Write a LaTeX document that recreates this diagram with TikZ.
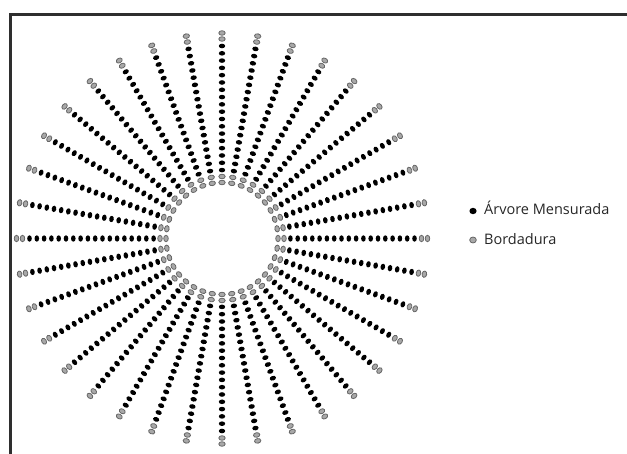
\documentclass[tikz,border=0pt]{standalone}
\usepackage{fontspec}
\setmainfont{Open Sans}
\definecolor{framecol}{HTML}{2E2E2E}
\definecolor{grayfill}{HTML}{A8A8A8}
\definecolor{grayline}{HTML}{666666}
\tikzset{
  blackdot/.style={fill=black},
  graydot/.style={fill=grayfill, draw=grayline, line width=0.8pt},
  legendtext/.style={anchor=base west, inner sep=0pt, font=\fontsize{14.5}{17}\selectfont, text=black!85},
  frameline/.style={draw=framecol, line width=3pt}
}
\begin{document}
\begin{tikzpicture}[x=1pt, y=-1pt]
\useasboundingbox (0,0) rectangle (627,454);
% frame (top and left borders)
\coordinate (fl) at (10,454);
\coordinate (fc) at (10,15);
\coordinate (fr) at (627,15);
\draw[frameline] (fl) -- (fc) -- (fr);
% radial pattern
\coordinate (ctr) at (222,238.5);
\foreach \a in {0,10,...,350}{
  \begin{scope}[shift={(ctr)}, rotate=\a]
    \foreach \r in {205.5,199.5,62,56}{
      \draw[graydot] (\r,0) ellipse [x radius=2.3, y radius=3.2];
    }
    \foreach \k in {0,...,17}{
      \fill[blackdot] ({192.5-7.3*\k},0) ellipse [x radius=2.3, y radius=3.2];
    }
  \end{scope}
}
% legend
\coordinate (lb) at (473,211);
\coordinate (lg) at (473,240);
\fill[blackdot] (lb) ellipse [x radius=3.6, y radius=3.2];
\draw[graydot] (lg) ellipse [x radius=3.3, y radius=3.0];
\node[legendtext] (tb) at (484,215) {Árvore Mensurada};
\node[legendtext] (tg) at (484,244.5) {Bordadura};
\end{tikzpicture}
\end{document}
